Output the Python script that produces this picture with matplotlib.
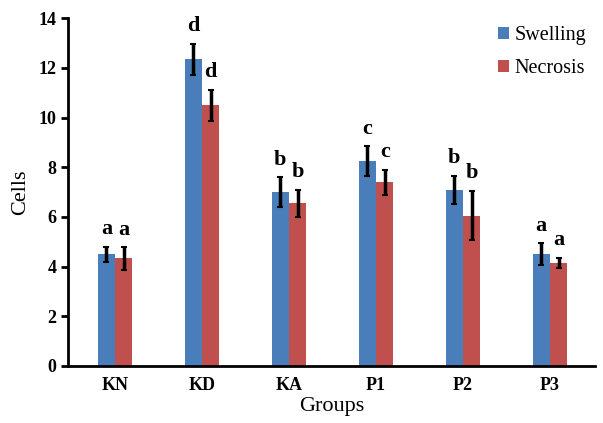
import numpy as np
import matplotlib
matplotlib.use("Agg")
import matplotlib.pyplot as plt

groups = ["KN", "KD", "KA", "P1", "P2", "P3"]
swelling = [4.5, 12.35, 7.0, 8.25, 7.08, 4.5]
swelling_err = [0.3, 0.62, 0.6, 0.6, 0.57, 0.45]
necrosis = [4.33, 10.5, 6.55, 7.4, 6.05, 4.15]
necrosis_err = [0.45, 0.62, 0.55, 0.5, 1.0, 0.2]
swelling_letters = ["a", "d", "b", "c", "b", "a"]
necrosis_letters = ["a", "d", "b", "c", "b", "a"]

plt.rcParams["font.family"] = "Liberation Serif"

fig = plt.figure(figsize=(6.03, 4.23), dpi=100)
ax = fig.add_axes([0.113, 0.135, 0.874, 0.822])

x = np.arange(len(groups))
w = 0.2
ax.bar(x - w / 2, swelling, w, color="#4a7ebb", label="Swelling")
ax.bar(x + w / 2, necrosis, w, color="#c0504d", label="Necrosis")
ax.errorbar(x - w / 2, swelling, yerr=swelling_err, fmt="none", ecolor="black",
            elinewidth=2.5, capsize=2, capthick=1.5)
ax.errorbar(x + w / 2, necrosis, yerr=necrosis_err, fmt="none", ecolor="black",
            elinewidth=2.5, capsize=2, capthick=1.5)

for i in range(len(groups)):
    ax.text(x[i] - w / 2, swelling[i] + swelling_err[i] + 0.3, swelling_letters[i],
            ha="center", va="bottom", fontsize=16, fontweight="bold")
    ax.text(x[i] + w / 2, necrosis[i] + necrosis_err[i] + 0.3, necrosis_letters[i],
            ha="center", va="bottom", fontsize=16, fontweight="bold")

ax.set_xlim(-0.54, 5.52)
ax.set_ylim(0, 14)
ax.set_yticks(range(0, 15, 2))
ax.set_xticks(x)
ax.set_xticklabels(groups)
ax.tick_params(axis="x", length=0, pad=8, labelsize=13)
ax.tick_params(axis="y", length=5, width=2, labelsize=13)
for lab in ax.get_xticklabels() + ax.get_yticklabels():
    lab.set_fontweight("bold")
for s in ["top", "right"]:
    ax.spines[s].set_visible(False)
for s in ["left", "bottom"]:
    ax.spines[s].set_linewidth(2)

ax.set_ylabel("Cells", fontsize=16, labelpad=6)
ax.set_xlabel("Groups", fontsize=16, labelpad=2)

ax.legend(loc="upper right", bbox_to_anchor=(1.017, 1.03), frameon=False, fontsize=14.5,
          handlelength=0.55, handleheight=0.55, handletextpad=0.25, labelspacing=0.7)

plt.savefig("out.png", dpi=100)
